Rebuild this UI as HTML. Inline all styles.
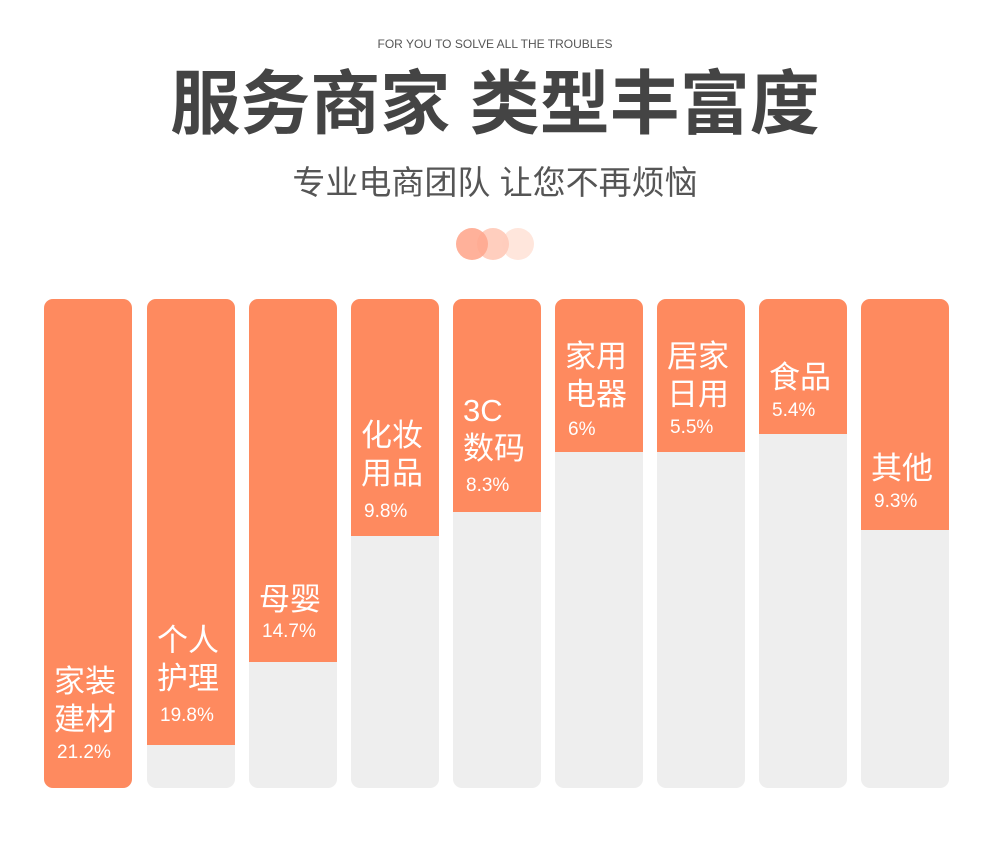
<!DOCTYPE html>
<html><head><meta charset="utf-8"><style>
body{margin:0;width:990px;height:861px;background:#fff;position:relative;overflow:hidden;font-family:"Liberation Sans","Noto Sans CJK SC",sans-serif}
.a{position:absolute}
.col{position:absolute;top:299px;width:88px;height:489px;border-radius:9px;background:#eeeeee;overflow:hidden}
.fill{position:absolute;left:0;top:0;width:88px;background:#fe8a5f}
.l{position:absolute;left:10px;color:#fff;font-size:31px;line-height:38px;white-space:nowrap}
.p{position:absolute;left:13px;color:#fff;font-size:19px;line-height:24px;white-space:nowrap}
.c{position:absolute;width:32px;height:32px;border-radius:50%;top:228px}
</style></head><body>
<div class="a" style="left:0;width:990px;top:37px;text-align:center;font-size:12px;color:#555">FOR YOU TO SOLVE ALL THE TROUBLES</div>
<div class="a" style="left:0;width:990px;top:64px;text-align:center;font-size:70px;line-height:80px;font-weight:bold;color:#444">服务商家 类型丰富度</div>
<div class="a" style="left:0;width:990px;top:163px;text-align:center;font-size:33px;line-height:40px;color:#555">专业电商团队 让您不再烦恼</div>
<div class="c" style="left:502px;background:#ffe6dc"></div>
<div class="c" style="left:477px;background:#ffcbba;opacity:.95"></div>
<div class="c" style="left:456px;background:#ffa98f;opacity:.9"></div>

<div class="col" style="left:44px"><div class="fill" style="height:489px"></div>
<div class="l" style="top:364px">家装<br>建材</div><div class="p" style="top:442px">21.2%</div></div>
<div class="col" style="left:147px"><div class="fill" style="height:446px"></div>
<div class="l" style="top:323px">个人<br>护理</div><div class="p" style="top:405px">19.8%</div></div>
<div class="col" style="left:249px"><div class="fill" style="height:363px"></div>
<div class="l" style="top:282px">母婴</div><div class="p" style="top:321px">14.7%</div></div>
<div class="col" style="left:351px"><div class="fill" style="height:237px"></div>
<div class="l" style="top:118px">化妆<br>用品</div><div class="p" style="top:201px">9.8%</div></div>
<div class="col" style="left:453px"><div class="fill" style="height:213px"></div>
<div class="l" style="top:93px">3C<br>数码</div><div class="p" style="top:175px">8.3%</div></div>
<div class="col" style="left:555px"><div class="fill" style="height:153px"></div>
<div class="l" style="top:39px">家用<br>电器</div><div class="p" style="top:119px">6%</div></div>
<div class="col" style="left:657px"><div class="fill" style="height:153px"></div>
<div class="l" style="top:39px">居家<br>日用</div><div class="p" style="top:117px">5.5%</div></div>
<div class="col" style="left:759px"><div class="fill" style="height:135px"></div>
<div class="l" style="top:60px">食品</div><div class="p" style="top:100px">5.4%</div></div>
<div class="col" style="left:861px"><div class="fill" style="height:231px"></div>
<div class="l" style="top:151px">其他</div><div class="p" style="top:191px">9.3%</div></div>
</body></html>
